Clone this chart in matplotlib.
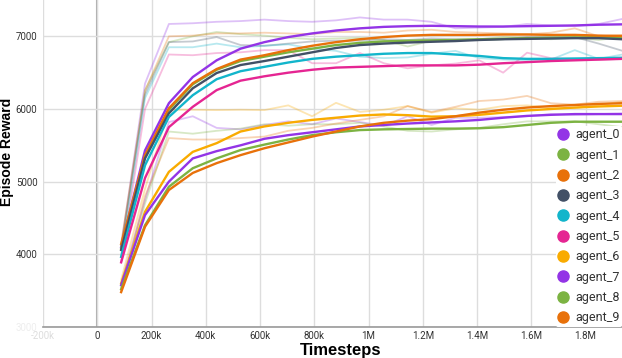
import matplotlib
matplotlib.use("Agg")
import matplotlib.pyplot as plt
from matplotlib.lines import Line2D
import numpy as np

# timesteps (every ~88k)
steps = [88000 * k for k in range(1, 23)]

agents = ["agent_%d" % i for i in range(10)]
colors = ["#9334e6", "#7cb342", "#e8710a", "#425066", "#12b5cb",
          "#e52592", "#f9ab00", "#9334e6", "#7cb342", "#e8710a"]

# smoothed curves
smooth_0 = [4100, 5430, 6080, 6440, 6670, 6830, 6920, 6990, 7040, 7080, 7110,
            7130, 7140, 7145, 7140, 7135, 7135, 7140, 7145, 7150, 7160, 7165]
smooth_1 = [4080, 5350, 5990, 6340, 6540, 6660, 6720, 6780, 6830, 6880, 6910,
            6930, 6940, 6945, 6950, 6960, 6965, 6975, 6980, 6985, 6990, 6990]
smooth_2 = [4140, 5365, 6010, 6355, 6550, 6680, 6740, 6810, 6870, 6920, 6960,
            6990, 7010, 7020, 7020, 7020, 7025, 7025, 7020, 7020, 7010, 7005]
smooth_3 = [4060, 5320, 5940, 6285, 6495, 6605, 6660, 6720, 6780, 6840, 6880,
            6900, 6915, 6925, 6935, 6950, 6960, 6965, 6970, 6975, 6975, 6960]
smooth_4 = [3965, 5225, 5890, 6190, 6410, 6520, 6580, 6640, 6690, 6720, 6740,
            6760, 6770, 6770, 6750, 6730, 6700, 6690, 6690, 6695, 6700, 6705]
smooth_5 = [3890, 5050, 5750, 6030, 6260, 6390, 6450, 6500, 6540, 6570, 6580,
            6590, 6600, 6600, 6600, 6610, 6630, 6645, 6660, 6670, 6680, 6690]
smooth_6 = [3600, 4585, 5135, 5410, 5530, 5690, 5760, 5810, 5850, 5880, 5910,
            5925, 5915, 5895, 5900, 5920, 5950, 5980, 6000, 6020, 6035, 6045]
smooth_7 = [3575, 4540, 5000, 5320, 5420, 5500, 5590, 5640, 5680, 5720, 5760,
            5780, 5800, 5815, 5830, 5850, 5880, 5905, 5920, 5930, 5930, 5930]
smooth_8 = [3520, 4400, 4930, 5185, 5320, 5435, 5510, 5580, 5640, 5680, 5710,
            5720, 5725, 5730, 5730, 5735, 5750, 5780, 5810, 5825, 5825, 5825]
smooth_9 = [3480, 4380, 4885, 5120, 5255, 5365, 5460, 5540, 5620, 5690, 5760,
            5810, 5840, 5860, 5900, 5950, 5990, 6020, 6040, 6055, 6070, 6080]

# raw (unsmoothed) curves
raw_0 = [4120, 6350, 7170, 7180, 7200, 7210, 7230, 7210, 7200, 7220, 7260,
         7230, 7230, 7200, 7110, 7120, 7130, 7170, 7150, 7140, 7170, 7240]
raw_1 = [4100, 6260, 6920, 7000, 7060, 7030, 7010, 6980, 6960, 6970, 6980,
         6950, 6860, 6940, 6950, 6960, 6990, 6980, 6960, 6980, 6950, 6990]
raw_2 = [4150, 6250, 7000, 7010, 7040, 7040, 7050, 7040, 7030, 7060, 7060,
         7050, 7080, 7090, 7060, 7050, 7040, 7030, 7050, 7110, 7000, 7020]
raw_3 = [4080, 6200, 6920, 6930, 6990, 6880, 6870, 6900, 6930, 6940, 6940,
         6960, 6950, 6970, 6960, 6950, 6960, 6990, 6990, 6990, 6900, 6800]
raw_4 = [3980, 6150, 6850, 6850, 6900, 6850, 6870, 6890, 6830, 6800, 6720,
         6700, 6710, 6760, 6800, 6700, 6680, 6670, 6680, 6810, 6690, 6750]
raw_5 = [3900, 6000, 6750, 6740, 6770, 6780, 6810, 6810, 6630, 6630, 6770,
         6630, 6560, 6600, 6625, 6670, 6500, 6775, 6700, 6690, 6680, 6690]
raw_6 = [3650, 4900, 5990, 5990, 5985, 5990, 5985, 6050, 5900, 6085, 5960,
         5990, 6040, 5950, 6010, 5990, 6040, 6050, 6020, 6010, 6060, 6100]
raw_7 = [3600, 4750, 5820, 5900, 5740, 5720, 5780, 5830, 5790, 5870, 5820,
         5770, 5900, 5780, 5880, 5880, 5890, 5900, 5930, 5920, 5930, 5940]
raw_8 = [3550, 4700, 5690, 5660, 5700, 5730, 5790, 5770, 5790, 5790, 5810,
         5760, 5700, 5690, 5720, 5740, 5790, 5830, 5830, 5830, 5790, 5750]
raw_9 = [3500, 4800, 5600, 5580, 5580, 5600, 5620, 5700, 5740, 5800, 5850,
         5900, 6040, 5960, 6030, 6110, 6130, 6180, 6080, 6060, 6100, 6110]

smooth = [smooth_0, smooth_1, smooth_2, smooth_3, smooth_4,
          smooth_5, smooth_6, smooth_7, smooth_8, smooth_9]
raw = [raw_0, raw_1, raw_2, raw_3, raw_4, raw_5, raw_6, raw_7, raw_8, raw_9]

xticks = [-200000, 0, 200000, 400000, 600000, 800000, 1000000,
          1200000, 1400000, 1600000, 1800000]
xticklabels = ["-200k", "0", "200k", "400k", "600k", "800k", "1M",
               "1.2M", "1.4M", "1.6M", "1.8M"]
yticks = [3000, 4000, 5000, 6000, 7000]

plt.rcParams["font.family"] = ["Roboto", "DejaVu Sans"]

fig = plt.figure(figsize=(6.22, 3.58), dpi=100)
ax = fig.add_axes([43/622, 31/358, 579/622, 327/358])

for i in range(10):
    ax.plot(steps, raw[i], color=colors[i], alpha=0.3, lw=1.3, zorder=2)
for i in range(10):
    ax.plot(steps, smooth[i], color=colors[i], lw=1.7, zorder=3)

ax.set_xlim(-200000, 1934000)
ax.set_ylim(3000, 7500)
ax.set_xticks(xticks)
ax.set_xticklabels(xticklabels)
ax.set_yticks(yticks)
ax.tick_params(axis="both", length=0, labelsize=7, colors="#333333")
ax.tick_params(axis="x", pad=3)
ax.tick_params(axis="y", pad=4)
ax.get_xticklabels()[0].set_color("#dddddd")
ax.get_yticklabels()[0].set_color("#eeeeee")

ax.grid(True, color="#dddddd", lw=1)
ax.axvline(0, color="#aaaaaa", lw=1.5, zorder=1)
for s in ["top", "right", "left"]:
    ax.spines[s].set_visible(False)
ax.spines["bottom"].set_color("#999999")
ax.spines["bottom"].set_linewidth(1.2)

fig.text(7/622, 1 - 152/358, "Episode Reward", rotation=90, ha="center",
         va="center", fontsize=10, fontweight="bold", family="Liberation Sans")
fig.text(341/622, 1 - 350/358, "Timesteps", ha="center", va="center",
         fontsize=12, fontweight="bold", family="Liberation Sans")

handles = [Line2D([], [], marker="o", ls="", color=c, markersize=8) for c in colors]
leg = ax.legend(handles, agents, loc="lower right", bbox_to_anchor=(1.0, 0.0),
                frameon=True, facecolor="white", edgecolor="none", framealpha=1,
                fontsize=9, labelspacing=0.59, handlelength=0.8,
                handletextpad=0.55, borderpad=0.2, borderaxespad=0.0)
for t in leg.get_texts():
    t.set_color("#333333")
leg.set_zorder(5)

fig.savefig("out.png", dpi=100)
